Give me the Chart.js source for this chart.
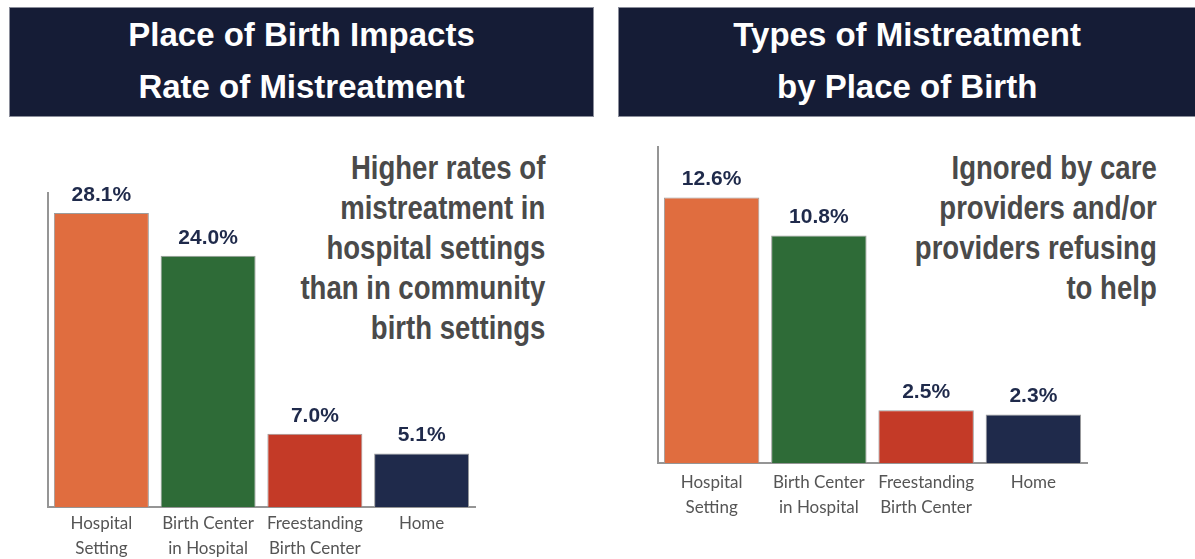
<!DOCTYPE html>
<html>
<head>
<meta charset="utf-8">
<script src="https://cdn.jsdelivr.net/npm/chart.js@4/dist/chart.umd.min.js"></script>
<style>
  html, body { margin: 0; padding: 0; background: #fff; }
  body { width: 1195px; height: 559px; position: relative; overflow: hidden; }
  .banner {
    position: absolute; top: 7px; height: 110px;
    background: #151c36; border: 1px solid #8a8d9a; box-sizing: border-box;
    color: #fff; text-align: center;
    font-family: "Liberation Sans", Arial, sans-serif;
    font-weight: bold; font-size: 34px; line-height: 52px; padding-top: 0px;
  }
  .banner span { display: inline-block; transform: scaleX(0.97); }
  .note {
    position: absolute; text-align: right; color: #4a4a4a; white-space: nowrap;
    font-family: "Liberation Sans", Arial, sans-serif;
    font-weight: bold; font-size: 33px; line-height: 40px;
    transform: scaleX(0.835); transform-origin: right top;
  }
  canvas { position: absolute; }
</style>
</head>
<body>
<div class="banner" style="left:9px; width:585px;"><span>Place of Birth Impacts<br>Rate of Mistreatment</span></div>
<div class="banner" style="left:618px; width:577px; border-right:none;"><span>Types of Mistreatment<br>by Place of Birth</span></div>

<div class="note" style="right:650px; top:148px;">Higher rates of<br>mistreatment in<br>hospital settings<br>than in community<br>birth settings</div>
<div class="note" style="right:38px; top:148px;">Ignored by care<br>providers and/or<br>providers refusing<br>to help</div>

<div style="position:absolute; left:0; top:130px; width:600px; height:429px;"><canvas id="left"></canvas></div>
<div style="position:absolute; left:600px; top:130px; width:595px; height:429px;"><canvas id="right"></canvas></div>

<script>
const categories = [
  ['Hospital', 'Setting'],
  ['Birth Center', 'in Hospital'],
  ['Freestanding', 'Birth Center'],
  ['Home']
]
const placeOfBirthRates = [28.1, 24.0, 7.0, 5.1]
const ignoredRates = [12.6, 10.8, 2.5, 2.3]
const barColors = ['#e06d3f', '#2e6b37', '#c43a27', '#1f2a4b']

const valueLabels = {
  id: 'valueLabels',
  afterDatasetsDraw(chart) {
    const ctx = chart.ctx
    const meta = chart.getDatasetMeta(0)
    ctx.save()
    ctx.font = 'bold 21px "Liberation Sans", Arial, sans-serif'
    ctx.fillStyle = '#1f2a4b'
    ctx.textAlign = 'center'
    ctx.textBaseline = 'middle'
    meta.data.forEach((bar, i) => {
      const v = chart.data.datasets[0].data[i]
      ctx.fillText(v.toFixed(1) + '%', bar.x, bar.y - 18)
    })
    ctx.restore()
  }
}

function makeChart(id, values, yMax, padding, tickPad, axisHeight) {
  return new Chart(document.getElementById(id), {
    type: 'bar',
    data: {
      labels: categories,
      datasets: [{
        data: values,
        backgroundColor: barColors,
        borderColor: '#9c9c9c',
        borderWidth: 1,
        barPercentage: 0.89,
        categoryPercentage: 1
      }]
    },
    options: {
      responsive: true,
      maintainAspectRatio: false,
      animation: false,
      layout: { padding },
      plugins: { legend: { display: false }, tooltip: { enabled: false } },
      scales: {
        x: {
          grid: { display: false, drawTicks: false },
          border: { display: true, color: '#959595', width: 2 },
          ticks: {
            color: '#555',
            font: { family: 'Lato, sans-serif', size: 17, lineHeight: 1.47 },
            padding: tickPad,
            maxRotation: 0,
            autoSkip: false
          },
          afterFit(scale) { scale.height = axisHeight }
        },
        y: {
          min: 0,
          max: yMax,
          grid: { display: false, drawTicks: false },
          border: { display: true, color: '#959595', width: 2 },
          ticks: { display: false },
          afterFit(scale) { scale.width = 0 }
        }
      }
    },
    plugins: [valueLabels]
  })
}

makeChart('left', placeOfBirthRates, 30, { left: 48, right: 125, top: 63, bottom: 0 }, 4, 52)
makeChart('right', ignoredRates, 15, { left: 58, right: 108, top: 17, bottom: 40 }, 7, 56)
</script>
</body>
</html>
